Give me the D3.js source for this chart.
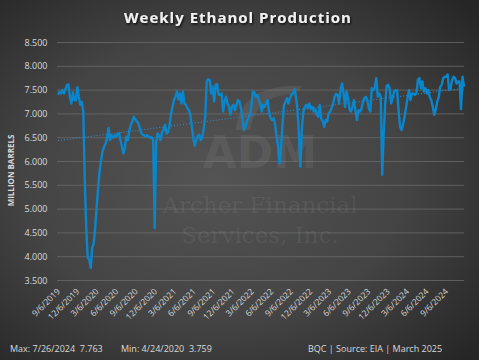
<!DOCTYPE html>
<html><head><meta charset="utf-8">
<script src="https://cdn.jsdelivr.net/npm/d3@7"></script>
<style>
html,body{margin:0;padding:0;background:#333;}
svg{display:block;}
text{font-family:"Open Sans","DejaVu Sans",sans-serif;}
text.pre{white-space:pre;}
</style></head>
<body>
<svg id="c" width="479" height="360"></svg>
<script>
// ---- data ----
const startDate = "2019-11-22"; // first weekly observation (Friday)
const values = [
7.40,7.46,7.43,7.50,7.43,7.52,7.60,7.62,7.35,7.22,7.45,7.30,7.28,7.56,7.36,7.19,7.25,7.05,5.60,4.60,
3.98,3.94,3.76,4.19,4.28,4.60,5.05,5.45,5.80,6.03,6.22,6.31,6.38,6.49,6.70,6.45,6.55,6.50,6.55,6.52,
6.58,6.60,6.45,6.31,6.17,6.30,6.52,6.45,6.66,6.77,6.84,6.94,6.88,6.84,6.80,6.70,6.60,6.56,6.55,6.52,
6.55,6.52,6.50,6.51,6.45,4.60,6.40,6.59,6.55,6.45,6.62,6.66,6.77,6.59,6.62,6.75,7.00,7.15,7.29,7.36,
7.47,7.30,7.43,7.22,7.47,7.22,7.19,7.12,7.08,6.98,6.73,6.49,6.33,6.45,6.54,6.56,6.45,6.50,6.70,6.94,
7.68,7.73,7.71,7.43,7.57,7.26,7.61,7.63,7.40,7.40,7.43,7.05,7.26,7.36,7.22,7.15,6.98,7.15,7.19,7.08,
7.19,7.29,7.26,7.12,6.91,6.66,6.73,6.84,6.91,6.98,7.15,7.47,7.45,7.36,7.40,7.29,7.22,7.05,7.19,7.15,
7.22,7.29,7.01,6.91,6.87,6.91,6.77,6.52,6.31,5.96,6.31,6.80,7.19,7.26,7.33,7.22,7.33,7.40,7.43,7.52,
7.36,7.10,6.55,5.89,6.70,7.05,7.15,7.19,7.12,7.22,7.10,7.15,7.05,7.10,6.98,6.94,7.19,6.90,6.84,6.73,
6.87,6.84,7.01,7.05,7.12,7.22,7.36,7.42,7.40,7.22,7.50,7.64,7.43,7.15,7.47,7.33,7.10,7.05,7.15,7.29,
7.08,6.87,7.08,7.05,7.10,7.25,7.33,7.36,7.29,7.12,7.05,7.54,7.50,7.55,7.75,7.36,7.43,7.36,5.72,6.59,
7.19,7.59,7.61,7.54,7.22,7.33,7.47,7.50,7.50,7.08,6.73,6.66,6.77,6.94,7.12,7.33,7.50,7.29,7.43,7.43,
7.40,7.43,7.71,7.75,7.54,7.68,7.47,7.54,7.43,7.50,7.35,7.29,7.15,6.98,7.08,7.26,7.35,7.57,7.61,7.75,
7.78,7.78,7.83,7.50,7.54,7.71,7.78,7.75,7.64,7.68,7.68,7.10,7.78,7.57
];
const yTicks = [3.5,4.0,4.5,5.0,5.5,6.0,6.5,7.0,7.5,8.0,8.5];
const xTickLabels = ["9/6/2019","12/6/2019","3/6/2020","6/6/2020","9/6/2020","12/6/2020","3/6/2021","6/6/2021",
 "9/6/2021","12/6/2021","3/6/2022","6/6/2022","9/6/2022","12/6/2022","3/6/2023","6/6/2023","9/6/2023",
 "12/6/2023","3/6/2024","6/6/2024","9/6/2024"];
const title = "Weekly Ethanol Production";
const yTitle = "MILLION BARRELS";
const footMax = "Max: 7/26/2024  7.763";
const footMin = "Min: 4/24/2020  3.759";
const footSrc = "BQC | Source: EIA | March 2025";

// ---- build ----
const parse = d3.utcParse("%Y-%m-%d");
const parseTick = d3.utcParse("%m/%d/%Y");
const t0 = parse(startDate);
const data = values.map((v,i)=>({date:d3.utcDay.offset(t0, 7*i), v}));

const W=479,H=360;
const svg = d3.select("#c");
const defs = svg.append("defs");
const rg = defs.append("radialGradient").attr("id","bg").attr("cx","45%").attr("cy","50%").attr("r","72%");
rg.append("stop").attr("offset","0%").attr("stop-color","#545454");
rg.append("stop").attr("offset","55%").attr("stop-color","#444444");
rg.append("stop").attr("offset","100%").attr("stop-color","#262626");
const f = defs.append("filter").attr("id","sh").attr("x","-10%").attr("y","-30%").attr("width","120%").attr("height","160%");
f.append("feDropShadow").attr("dx",1).attr("dy",1.5).attr("stdDeviation",1.2).attr("flood-color","#000").attr("flood-opacity",0.8);

svg.append("rect").attr("width",W).attr("height",H).attr("fill","url(#bg)");

const x = d3.scaleUtc().domain(d3.extent(data,d=>d.date)).range([58,464]);
const y = d3.scaleLinear().domain([3.5,8.5]).range([280.5,42.5]);
const plotL=57, plotR=464;

// gridlines
svg.append("g").selectAll("line").data(yTicks).join("line")
  .attr("x1",plotL).attr("x2",plotR).attr("y1",d=>y(d)).attr("y2",d=>y(d))
  .attr("stroke","#6a6a6a").attr("stroke-width",0.8);

// watermark
const wm = svg.append("g").attr("fill","#ffffff").attr("fill-opacity",0.07);
wm.append("path").attr("d","M236,130 C238,100 262,84 302,86 L296,94 C270,94 254,106 250,130 Z");
wm.append("text").attr("x",260).attr("y",168).attr("text-anchor","middle")
  .style("font-family","'DejaVu Sans',sans-serif").attr("font-weight","bold").attr("font-size",44).text("ADM");
wm.append("text").attr("x",260).attr("y",213).attr("text-anchor","middle")
  .style("font-family","'DejaVu Serif',serif").attr("font-size",23).text("Archer Financial");
wm.append("text").attr("x",260).attr("y",243).attr("text-anchor","middle")
  .style("font-family","'DejaVu Serif',serif").attr("font-size",23).text("Services, Inc.");

// trend line (least squares)
const xs = data.map(d=>+d.date), ys = data.map(d=>d.v);
const mx = d3.mean(xs), my = d3.mean(ys);
const slope = d3.sum(xs.map((xx,i)=>(xx-mx)*(ys[i]-my))) / d3.sum(xs.map(xx=>(xx-mx)*(xx-mx)));
const trend = d3.extent(data,d=>d.date).map(dt=>({date:dt, v: my + slope*(+dt-mx)}));
svg.append("path").datum(trend)
  .attr("d", d3.line().x(d=>x(d.date)).y(d=>y(d.v)))
  .attr("fill","none").attr("stroke","#2f8fd0").attr("stroke-width",1).attr("stroke-dasharray","1,2");

// main line
svg.append("path").datum(data)
  .attr("d", d3.line().x(d=>x(d.date)).y(d=>y(d.v)))
  .attr("fill","none").attr("stroke","#0a86cc").attr("stroke-width",2.4).attr("stroke-linejoin","round");

// y axis labels
svg.append("g").selectAll("text").data(yTicks).join("text")
  .attr("x",47.5).attr("y",d=>y(d)+3).attr("text-anchor","end")
  .attr("font-size",9).attr("fill","#d9d9d9").text(d=>d3.format(".3f")(d));

// x axis labels
svg.append("g").selectAll("text").data(xTickLabels).join("text")
  .attr("transform",d=>`translate(${x(parseTick(d))+19},292) rotate(-45)`)
  .attr("text-anchor","end").attr("font-size",8.5).attr("fill","#d9d9d9").text(d=>d);

// y title
svg.append("text").attr("transform","translate(14,170.5) rotate(-90)").attr("text-anchor","middle")
  .attr("font-size",8).attr("font-weight","bold").attr("fill","#d9d9d9").text(yTitle);

// title
svg.append("text").attr("x",238).attr("y",23).attr("text-anchor","middle")
  .attr("font-size",15).attr("font-weight","bold").attr("letter-spacing",1)
  .attr("fill","#f2f2f2").attr("filter","url(#sh)").text(title);

// footer
svg.append("text").attr("class","pre").attr("x",10).attr("y",352).attr("font-size",9).attr("fill","#d9d9d9").text(footMax);
svg.append("text").attr("class","pre").attr("x",121).attr("y",352).attr("font-size",9).attr("fill","#d9d9d9").text(footMin);
svg.append("text").attr("x",308).attr("y",352).attr("font-size",9).attr("fill","#d9d9d9").text(footSrc);
</script>
</body></html>
